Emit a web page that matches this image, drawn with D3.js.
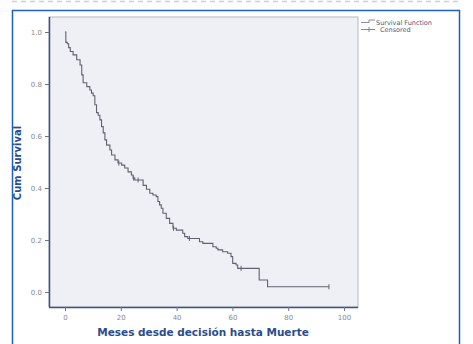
<!DOCTYPE html>
<html>
<head>
<meta charset="utf-8">
<script src="https://cdn.jsdelivr.net/npm/d3@7"></script>
<style>
  body { margin: 0; background: #fff; }
  svg { display: block; font-family: "DejaVu Sans", Verdana, sans-serif; }
</style>
</head>
<body>
<svg id="chart" width="473" height="344"></svg>
<script>
// Kaplan-Meier steps: time (months) where the curve drops, and survival after the drop
var eventTimes = [0, 0.3, 0.8, 1.3, 1.9, 2.9, 4.2, 5.4, 6.0, 6.5, 7.8, 8.9, 9.5, 10.1, 10.7, 11.3, 11.9,
    12.5, 13.1, 13.7, 14.3, 14.9, 16.1, 16.7, 17.9, 19.0, 20.3, 21.4, 22.6, 23.8, 24.4, 25.0,
    28.0, 29.2, 30.4, 31.5, 32.7, 33.3, 33.9, 34.5, 35.1, 36.3, 37.5, 38.7, 39.9, 42.2, 42.9,
    44.0, 48.2, 49.4, 53.0, 54.2, 54.8, 56.5, 58.3, 59.5, 60.1, 61.3, 61.9, 69.6, 72.6, 94.6];
var survival = [1.0, 0.96, 0.955, 0.94, 0.925, 0.912, 0.893, 0.873, 0.835, 0.805, 0.79, 0.777, 0.765, 0.755, 0.72, 0.69, 0.68,
    0.662, 0.636, 0.612, 0.585, 0.565, 0.546, 0.527, 0.508, 0.496, 0.488, 0.477, 0.462, 0.45, 0.438, 0.431,
    0.41, 0.395, 0.38, 0.373, 0.367, 0.348, 0.335, 0.322, 0.303, 0.283, 0.264, 0.245, 0.238, 0.226, 0.213,
    0.206, 0.193, 0.187, 0.174, 0.168, 0.162, 0.155, 0.149, 0.136, 0.11, 0.104, 0.091, 0.046, 0.02, 0.02];
// Censored observations (time, survival at that time)
var censoredTimes = [19.3, 24.6, 26.2, 38.9, 44.6, 63.1, 94.6];
var censoredSurv = [0.496, 0.438, 0.431, 0.245, 0.206, 0.091, 0.02];

var xTicks = [0, 20, 40, 60, 80, 100];
var yTicks = [0, 0.2, 0.4, 0.6, 0.8, 1.0];
var legendLabels = ["Survival Function", "Censored"];

var svg = d3.select("#chart");
var plot = { left: 49, top: 17, right: 358, bottom: 307 };
var x = d3.scaleLinear().domain([0, 100]).range([65, 344]);
var y = d3.scaleLinear().domain([0, 1]).range([292, 32]);

// Dashed rule at the very top
svg.append("line")
    .attr("x1", 12).attr("x2", 460).attr("y1", 1.5).attr("y2", 1.5)
    .attr("stroke", "#cfcfcf").attr("stroke-width", 1.5)
    .attr("stroke-dasharray", "5,4");

// Outer blue frame
svg.append("rect")
    .attr("x", 12.5).attr("y", 10.5).attr("width", 447).attr("height", 345)
    .attr("fill", "none").attr("stroke", "#1d62b8").attr("stroke-width", 1.5);

// Plot background
svg.append("rect")
    .attr("x", plot.left).attr("y", plot.top)
    .attr("width", plot.right - plot.left).attr("height", plot.bottom - plot.top)
    .attr("fill", "#eef0f6").attr("stroke", "#b4b8c4").attr("stroke-width", 1);

// Axes
var xAxis = d3.axisBottom(x).tickValues(xTicks).tickSize(4).tickFormat(d3.format("d"));
var gx = svg.append("g").attr("transform", "translate(0," + plot.bottom + ")").call(xAxis);
gx.select(".domain").attr("d", "M" + plot.left + ",0.5H" + plot.right)
    .attr("stroke", "#3d5580").attr("stroke-width", 1.5);
gx.selectAll(".tick line").attr("stroke", "#6a7690");
gx.selectAll(".tick text").attr("font-size", 7).attr("fill", "#8a8a8a")
    .attr("font-family", "DejaVu Sans").attr("dy", "0.9em");

var yAxis = d3.axisLeft(y).tickValues(yTicks).tickSize(4).tickFormat(d3.format(".1f"));
var gy = svg.append("g").attr("transform", "translate(" + plot.left + ",0)").call(yAxis);
gy.select(".domain").attr("d", "M0.5," + plot.top + "V" + plot.bottom)
    .attr("stroke", "#3d5580").attr("stroke-width", 1.5);
gy.selectAll(".tick line").attr("stroke", "#6a7690");
gy.selectAll(".tick text").attr("font-size", 7).attr("fill", "#8a8a8a")
    .attr("font-family", "DejaVu Sans");

// Survival curve
var pts = eventTimes.map(function (t, i) { return [t, survival[i]]; });
var line = d3.line()
    .x(function (d) { return x(d[0]); })
    .y(function (d) { return y(d[1]); })
    .curve(d3.curveStepAfter);
svg.append("path")
    .datum(pts)
    .attr("d", line)
    .attr("fill", "none").attr("stroke", "#60636e").attr("stroke-width", 1.1);

// Censored marks
svg.selectAll(".cens")
    .data(censoredTimes)
    .enter().append("line")
    .attr("class", "cens")
    .attr("x1", function (d) { return x(d); })
    .attr("x2", function (d) { return x(d); })
    .attr("y1", function (d, i) { return y(censoredSurv[i]) - 2.5; })
    .attr("y2", function (d, i) { return y(censoredSurv[i]) + 2.5; })
    .attr("stroke", "#60636e").attr("stroke-width", 1);

// Axis titles
svg.append("text")
    .attr("x", 203).attr("y", 336)
    .attr("text-anchor", "middle")
    .attr("font-size", 10.5).attr("font-weight", "bold").attr("fill", "#2c4c8c")
    .text("Meses desde decisión hasta Muerte");
svg.append("text")
    .attr("transform", "translate(21,163) rotate(-90)")
    .attr("text-anchor", "middle")
    .attr("font-size", 10).attr("font-weight", "bold").attr("fill", "#2c4c8c")
    .text("Cum Survival");

// Legend
var lg = svg.append("g").attr("transform", "translate(361,0)");
lg.append("path")
    .attr("d", "M0,22.5H8V20H14")
    .attr("fill", "none").attr("stroke", "#6a6e7a").attr("stroke-width", 0.8);
lg.append("path")
    .attr("d", "M0,29.5H14M8,27V32")
    .attr("fill", "none").attr("stroke", "#6a6e7a").attr("stroke-width", 0.8);
lg.selectAll("text")
    .data(legendLabels)
    .enter().append("text")
    .attr("x", function (d, i) { return i === 0 ? 15 : 19; })
    .attr("y", function (d, i) { return 25 + i * 7; })
    .attr("font-size", 6.5).attr("fill", "#4a5a80")
    .text(function (d) { return d; });
</script>
</body>
</html>
